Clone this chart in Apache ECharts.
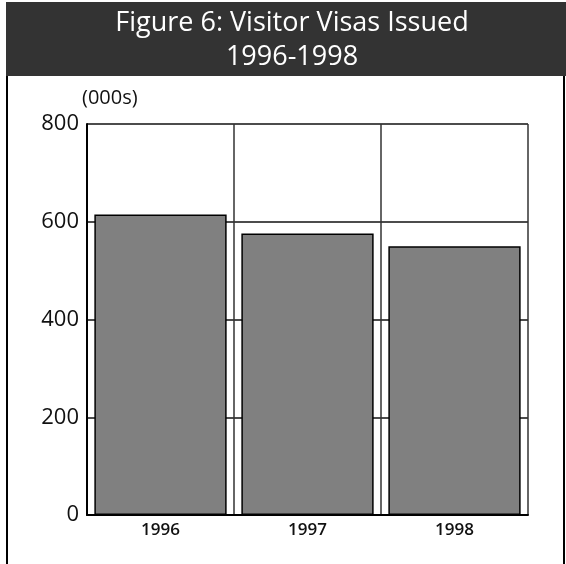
<!DOCTYPE html>
<html>
<head>
<meta charset="utf-8">
<script src="https://cdn.jsdelivr.net/npm/echarts@6/dist/echarts.min.js"></script>
<style>
  html, body { margin: 0; padding: 0; background: #fff; }
  #chart { width: 566px; height: 564px; }
</style>
</head>
<body>
<div id="chart"></div>
<script>
// data (thousands of visas)
const years = ["1996", "1997", "1998"];
const visas = [615, 576, 550];
const yTicks = { min: 0, max: 800, step: 200 };

const titleText = "Figure 6: Visitor Visas Issued\n1996-1998";
const unitLabel = "(000s)";

const chart = echarts.init(document.getElementById("chart"));

chart.setOption({
  backgroundColor: "#fff",
  animation: false,
  textStyle: { fontFamily: "Open Sans" },
  title: {
    text: titleText,
    left: 287,
    textAlign: "center",
    top: 1,
    textStyle: {
      color: "#fff",
      fontSize: 27,
      fontWeight: 500,
      lineHeight: 34,
      fontFamily: "Open Sans",
    },
    z: 10,
  },
  graphic: [
    // dark title band
    {
      type: "rect",
      shape: { x: 6, y: 2, width: 560, height: 74 },
      style: { fill: "#333" },
      z: 1,
    },
    // outer frame sides
    {
      type: "line",
      shape: { x1: 7, y1: 2, x2: 7, y2: 564 },
      style: { stroke: "#000", lineWidth: 2 },
    },
    {
      type: "line",
      shape: { x1: 564, y1: 2, x2: 564, y2: 564 },
      style: { stroke: "#000", lineWidth: 2 },
    },
    {
      type: "text",
      left: 82,
      top: 88,
      style: {
        text: unitLabel,
        fontSize: 20,
        fill: "#111",
        fontFamily: "Open Sans",
      },
    },
  ],
  grid: { left: 87, right: 38, top: 124, bottom: 49 },
  xAxis: {
    type: "category",
    data: years,
    boundaryGap: true,
    axisLine: { show: true, lineStyle: { color: "#000", width: 2 } },
    axisTick: { show: false },
    axisLabel: { fontSize: 17, color: "#111", margin: 7, fontWeight: 600 },
    splitLine: { show: true, lineStyle: { color: "#333", width: 1.5 } },
  },
  yAxis: {
    type: "value",
    min: yTicks.min,
    max: yTicks.max,
    interval: yTicks.step,
    axisLine: { show: true, lineStyle: { color: "#000", width: 2 } },
    axisTick: { show: false },
    axisLabel: { fontSize: 22, color: "#111", margin: 8 },
    splitLine: { show: true, lineStyle: { color: "#111", width: 1.5 } },
  },
  series: [
    {
      type: "bar",
      data: visas,
      barCategoryGap: "10%",
      itemStyle: { color: "#808080", borderColor: "#000", borderWidth: 1.5 },
    },
  ],
});
</script>
</body>
</html>
